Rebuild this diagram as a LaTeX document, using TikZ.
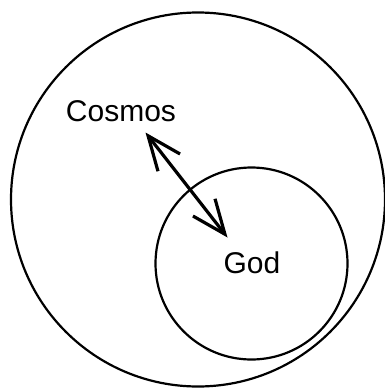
\documentclass[tikz,border=0pt]{standalone}
\usepackage{fontspec}
\setmainfont{Liberation Sans}
\usetikzlibrary{arrows.meta}
\begin{document}
\begin{tikzpicture}[x=1pt,y=-1pt,
  ring/.style={draw=black,line width=2.2pt},
  lbl/.style={font=\fontsize{30}{36}\selectfont,inner sep=0pt,anchor=base},
  link/.style={line width=3.2pt,{Straight Barb[length=34pt,width=28pt]}-{Straight Barb[length=34pt,width=28pt]}}]
\useasboundingbox (0,0) rectangle (385,388);
\node[ring,circle,minimum size=374pt,inner sep=0pt] (cosmosring) at (198,199.5) {};
\node[ring,circle,minimum size=192pt,inner sep=0pt] (godring) at (251.5,263.5) {};
\node[lbl] (cosmos) at (121,121) {Cosmos};
\node[lbl] (god) at (252,273.3) {God};
\coordinate (a) at (145.5,132.5);
\coordinate (b) at (227.5,237.5);
\draw[link] (a) -- (b);
\end{tikzpicture}
\end{document}
